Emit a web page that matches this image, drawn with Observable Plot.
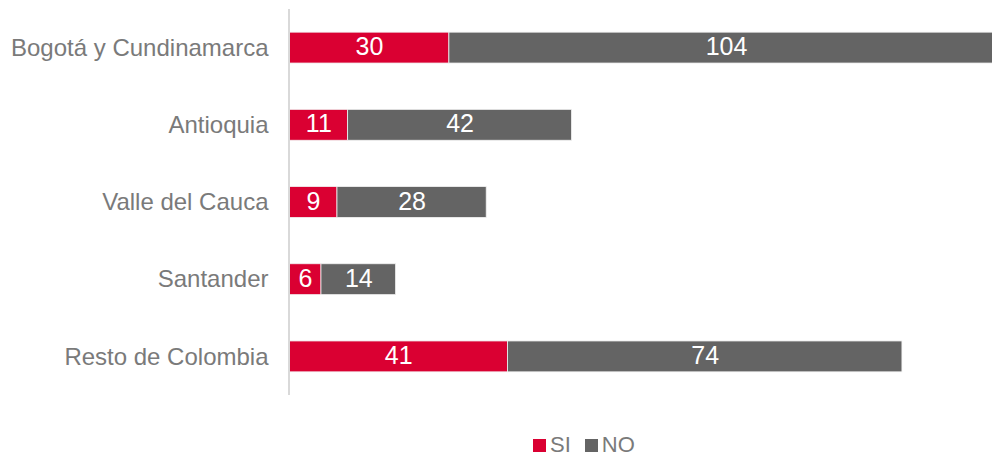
<!DOCTYPE html>
<html>
<head>
<meta charset="utf-8">
<script src="https://cdn.jsdelivr.net/npm/d3@7"></script>
<script src="https://cdn.jsdelivr.net/npm/@observablehq/plot@0.6"></script>
<style>
  html, body { margin: 0; padding: 0; background: #fff; overflow: hidden; }
  #wrap { position: relative; width: 992px; height: 460px; font-family: "Liberation Sans", Arial, sans-serif; }
  #legend { position: absolute; left: 533px; top: 432px; display: flex; align-items: center; font-size: 22px; line-height: 26px; color: #7a7a7a; }
  #legend .sw { width: 13px; height: 13px; display: inline-block; margin-right: 4px; }
  #legend .item { display: flex; align-items: center; margin-right: 14px; }
</style>
</head>
<body>
<div id="wrap"><div id="chart"></div><div id="legend"></div></div>
<script>
const regions = ["Bogotá y Cundinamarca", "Antioquia", "Valle del Cauca", "Santander", "Resto de Colombia"];
const siValues = [30, 11, 9, 6, 41];
const noValues = [104, 42, 28, 14, 74];
const seriesNames = ["SI", "NO"];
const seriesColors = ["#DA0032", "#646464"];

const data = [];
regions.forEach((r, i) => {
  data.push({region: r, series: "SI", value: siValues[i]});
  data.push({region: r, series: "NO", value: noValues[i]});
});

const chart = Plot.plot({
  width: 992,
  height: 410,
  marginLeft: 289,
  marginRight: 0,
  marginTop: 9,
  marginBottom: 15,
  style: {fontFamily: "'Liberation Sans', Arial, sans-serif", background: "white"},
  x: {domain: [0, 131.9], axis: null},
  y: {domain: regions, paddingInner: 0.6, paddingOuter: 0.3, round: false, label: null},
  color: {domain: seriesNames, range: seriesColors},
  marks: [
    Plot.barX(data, Plot.stackX({x: "value", y: "region", fill: "series", order: seriesNames, stroke: "#f2f2f2", strokeWidth: 0.8, clip: true})),
    Plot.textX(data, Plot.stackX({x: "value", y: "region", z: "series", order: seriesNames, text: d => String(d.value), fill: "white", fontSize: 25, dy: -1})),
    Plot.ruleX([0], {stroke: "#d9d9d9", strokeWidth: 2, dx: -0.5}),
    Plot.axisY({tickSize: 0, tickPadding: 21, fontSize: 24, color: "#7a7a7a", label: null})
  ]
});
document.getElementById("chart").appendChild(chart);

const legend = document.getElementById("legend");
seriesNames.forEach((s, i) => {
  const item = document.createElement("div");
  item.className = "item";
  const sw = document.createElement("span");
  sw.className = "sw";
  sw.style.background = seriesColors[i];
  const t = document.createElement("span");
  t.textContent = s;
  item.appendChild(sw);
  item.appendChild(t);
  legend.appendChild(item);
});
</script>
</body>
</html>
